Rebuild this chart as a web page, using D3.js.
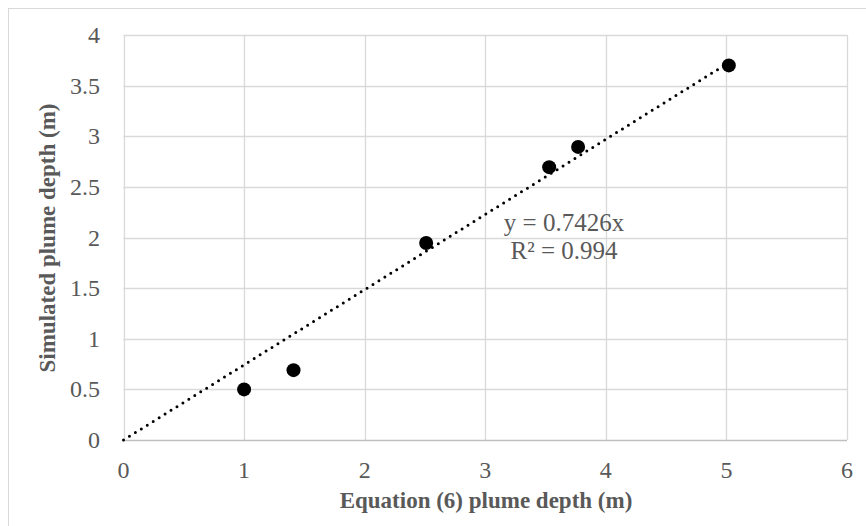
<!DOCTYPE html>
<html>
<head>
<meta charset="utf-8">
<script src="https://cdn.jsdelivr.net/npm/d3@7"></script>
<style>
  body { margin: 0; background: #fff; }
  text { font-family: "Liberation Serif", "Times New Roman", serif; fill: #595959; }
</style>
</head>
<body>
<div id="chart"></div>
<script>
// Data
const eqDepth = [1.0, 1.41, 2.51, 3.53, 3.77, 5.02];
const simDepth = [0.5, 0.69, 1.945, 2.695, 2.895, 3.7];
const slope = 0.7426;
const xTicks = [0, 1, 2, 3, 4, 5, 6];
const yTicks = [0, 0.5, 1, 1.5, 2, 2.5, 3, 3.5, 4];
const eqLabels = ["y = 0.7426x", "R\u00b2 = 0.994"];

const width = 866, height = 526;
const margin = { left: 123.5, top: 35, right: 19, bottom: 86 };

const svg = d3.select('#chart').append('svg')
    .attr('width', width)
    .attr('height', height);

// chart border
svg.append('rect')
    .attr('x', 8.5).attr('y', 8.5)
    .attr('width', width + 20).attr('height', height + 20)
    .attr('fill', 'none')
    .attr('stroke', '#d9d9d9');

const x = d3.scaleLinear().domain([0, 6]).range([margin.left, width - margin.right]);
const y = d3.scaleLinear().domain([0, 4]).range([height - margin.bottom, margin.top]);

// grid
const grid = svg.append('g');
grid.selectAll('line.h')
    .data(yTicks.slice(1))
    .join('line')
    .attr('x1', x(0)).attr('x2', x(6))
    .attr('y1', d => Math.round(y(d)) + 0.5).attr('y2', d => Math.round(y(d)) + 0.5)
    .attr('stroke', '#d9d9d9').attr('stroke-width', 1.3);
grid.selectAll('line.v')
    .data(xTicks)
    .join('line')
    .attr('y1', y(0)).attr('y2', y(4))
    .attr('x1', d => Math.round(x(d)) + 0.5).attr('x2', d => Math.round(x(d)) + 0.5)
    .attr('stroke', '#d9d9d9').attr('stroke-width', 1.3);

// x axis line
svg.append('line')
    .attr('x1', x(0)).attr('x2', x(6))
    .attr('y1', Math.round(y(0)) + 0.5).attr('y2', Math.round(y(0)) + 0.5)
    .attr('stroke', '#bfbfbf').attr('stroke-width', 1.3);

// tick labels
svg.append('g').selectAll('text')
    .data(xTicks)
    .join('text')
    .attr('x', d => x(d))
    .attr('y', y(0) + 38)
    .attr('text-anchor', 'middle')
    .style('font-size', '24px')
    .text(d => d);

svg.append('g').selectAll('text')
    .data(yTicks)
    .join('text')
    .attr('x', 100)
    .attr('y', d => y(d) + 8)
    .attr('text-anchor', 'end')
    .style('font-size', '24px')
    .text(d => d);

// axis titles
svg.append('text')
    .attr('x', 486)
    .attr('y', 508)
    .attr('text-anchor', 'middle')
    .style('font-size', '23px')
    .style('font-weight', 'bold')
    .text('Equation (6) plume depth (m)');

svg.append('text')
    .attr('transform', 'translate(55,238) rotate(-90)')
    .attr('text-anchor', 'middle')
    .style('font-size', '23px')
    .style('font-weight', 'bold')
    .text('Simulated plume depth (m)');

// trendline
const xMax = d3.max(eqDepth);
svg.append('line')
    .attr('x1', x(0)).attr('y1', y(0))
    .attr('x2', x(xMax)).attr('y2', y(slope * xMax))
    .attr('stroke', '#000')
    .attr('stroke-width', 3)
    .attr('stroke-linecap', 'round')
    .attr('stroke-dasharray', '0 7');

// points
svg.append('g').selectAll('circle')
    .data(eqDepth.map((d, i) => [d, simDepth[i]]))
    .join('circle')
    .attr('cx', d => x(d[0]))
    .attr('cy', d => y(d[1]))
    .attr('r', 7)
    .attr('fill', '#000');

// equation label
svg.append('g').selectAll('text')
    .data(eqLabels)
    .join('text')
    .attr('x', 564)
    .attr('y', (d, i) => 231 + i * 28)
    .attr('text-anchor', 'middle')
    .style('font-size', '25px')
    .text(d => d);
</script>
</body>
</html>
